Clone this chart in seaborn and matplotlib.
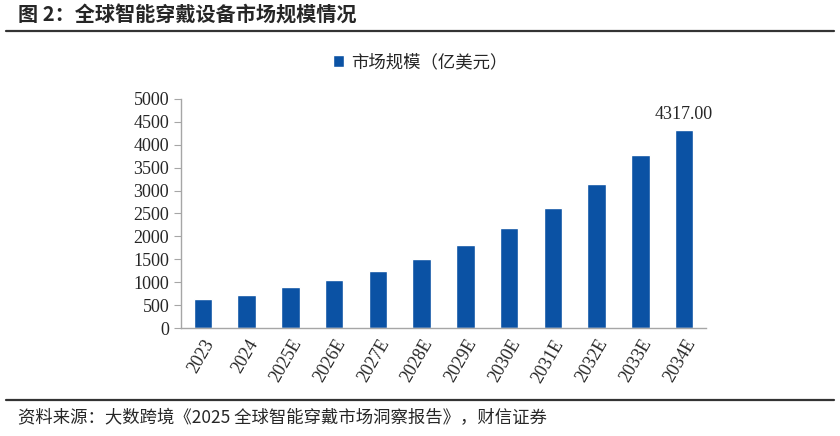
import numpy as np
import pandas as pd
import matplotlib
matplotlib.use('Agg')
import matplotlib.pyplot as plt
from matplotlib.lines import Line2D
import seaborn as sns

# data
years = ['2023', '2024', '2025E', '2026E', '2027E', '2028E',
         '2029E', '2030E', '2031E', '2032E', '2033E', '2034E']
market_size = [630, 725, 890, 1055, 1250, 1510,
               1810, 2175, 2625, 3150, 3775, 4317]
series_name = '市场规模（亿美元）'
title = '图 2：全球智能穿戴设备市场规模情况'
source = '资料来源：大数跨境《2025 全球智能穿戴市场洞察报告》，财信证券'

BAR = '#0B52A4'
AXC = '#A6A6A6'
CJK = ['Noto Sans CJK SC', 'DejaVu Sans']
NUM = ['Liberation Serif', 'Noto Sans CJK SC']

sns.set_style('white')
plt.rcParams['font.family'] = CJK

df = pd.DataFrame({'year': years, 'value': market_size})

fig = plt.figure(figsize=(8.4, 4.36), dpi=100)
ax = fig.add_axes([181/840, 108/436, 525/840, 229/436])
sns.barplot(data=df, x='year', y='value', color=BAR, width=0.42,
            saturation=1, ax=ax, label=series_name)
handles, labels = ax.get_legend_handles_labels()
if ax.get_legend() is not None:
    ax.get_legend().remove()

ax.set_ylim(0, 5000)
ax.set_xlim(-0.5, len(years) - 0.5)
ax.set_yticks(np.arange(0, 5001, 500))
ax.set_xlabel(''); ax.set_ylabel('')
for s in ['top', 'right']:
    ax.spines[s].set_visible(False)
for s in ['left', 'bottom']:
    ax.spines[s].set_color(AXC)
    ax.spines[s].set_linewidth(1)

ax.set_xticks(np.arange(-0.5, len(years), 1), minor=True)
ax.tick_params(axis='x', which='major', length=0, pad=6)
ax.tick_params(axis='x', which='minor', length=5, color=AXC, direction='out')
ax.tick_params(axis='y', length=5, color=AXC, direction='out', left=True)
ax.set_xticklabels(years, rotation=60, ha='right', rotation_mode='anchor',
                   fontsize=13, family=NUM)
for lab in ax.get_yticklabels():
    lab.set_fontfamily(NUM); lab.set_fontsize(13)

# value label on the last bar
ax.text(len(years) - 1, market_size[-1] + 150, f'{market_size[-1]:.2f}',
        ha='center', va='bottom', fontsize=13, family=NUM)

fig.legend(handles, labels, loc='center', bbox_to_anchor=(0.5, 1 - 62/436),
           frameon=False, handlelength=0.65, handleheight=0.65,
           handletextpad=0.4, prop={'family': CJK, 'size': 12.5})

# header / footer
fig.text(18/840, 1 - 15/436, title, fontsize=14.5, fontweight='bold',
         ha='left', va='center', family=CJK)
fig.add_artist(Line2D([6/840, 834/840], [1 - 31/436, 1 - 31/436],
                      color='#333333', lw=1.6))
fig.add_artist(Line2D([6/840, 834/840], [1 - 400/436, 1 - 400/436],
                      color='#333333', lw=1.6))
fig.text(18/840, 1 - 418/436, source, fontsize=12.5,
         ha='left', va='center', family=CJK)

fig.savefig('out.png', dpi=100)
